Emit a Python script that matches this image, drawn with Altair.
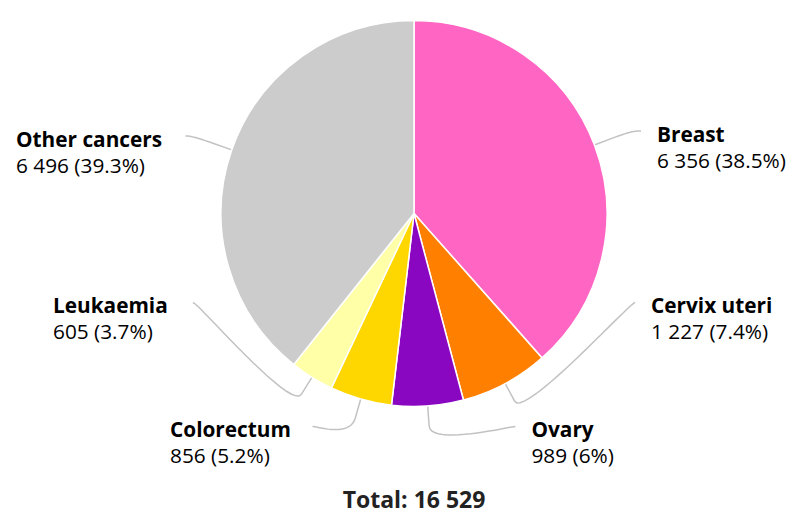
import math
import altair as alt
import pandas as pd

# ---- data ----
names = ["Breast", "Cervix uteri", "Ovary", "Colorectum", "Leukaemia", "Other cancers"]
values = [6356, 1227, 989, 856, 605, 6496]
colors = ["#FF66C4", "#FF7F00", "#8A07C2", "#FFD700", "#FFFFA8", "#CCCCCC"]

# ---- layout (pixels, plot coordinates) ----
W, H = 778, 507
CX, CY, R = 406, 205.5, 193
LABEL_R = 240
BREAK_OFF = 20
LABEL_Y = [127.5, 299, 423, 423, 299, 132.5]   # centre of the name line
LEFT_TEXT_X = {"Colorectum": 162, "Leukaemia": 45, "Other cancers": 8}  # left edge of left-side blocks
RIGHT_GAP = 16
LINE_GAP = 26
FONT = "Open Sans"
FS = 20.8
FS_TOTAL = 23

total = sum(values)


def fmt_int(v):
    return f"{v:,}".replace(",", " ")


def fmt_pct(p):
    s = f"{p:.1f}"
    return s[:-2] if s.endswith(".0") else s


pie = pd.DataFrame({"name": names, "value": values, "idx": list(range(len(names)))})

lab_rows, con_rows = [], []
cum = 0
for i, (n, v) in enumerate(zip(names, values)):
    a = 2 * math.pi * (cum + v / 2) / total
    cum += v
    sa, ca = math.sin(a), math.cos(a)
    left = sa < 0
    ly = LABEL_Y[i]
    dy = ly - CY
    dx = math.sqrt(max(LABEL_R ** 2 - dy ** 2, 0))
    ax = CX - dx if left else CX + dx
    ay = ly - 4.5
    tx = LEFT_TEXT_X[n] if left else ax + RIGHT_GAP
    lab_rows.append({"name": n, "tx": tx, "y1": ly, "y2": ly + LINE_GAP,
                     "val": f"{fmt_int(v)} ({fmt_pct(100 * v / total)}%)"})
    # connector: soft bezier from label anchor to break point, then to slice edge
    touch = (CX + R * sa, CY - R * ca)
    brk = (CX + (R + BREAK_OFF) * sa, CY - (R + BREAK_OFF) * ca)
    p0 = (ax, ay)
    p1 = (ax + (5 if left else -5), ay)
    p2 = (2 * brk[0] - touch[0], 2 * brk[1] - touch[1])
    p3 = brk
    k = 0
    for s in range(21):
        t = s / 20
        bx = ((1 - t) ** 3 * p0[0] + 3 * (1 - t) ** 2 * t * p1[0]
              + 3 * (1 - t) * t ** 2 * p2[0] + t ** 3 * p3[0])
        by = ((1 - t) ** 3 * p0[1] + 3 * (1 - t) ** 2 * t * p1[1]
              + 3 * (1 - t) * t ** 2 * p2[1] + t ** 3 * p3[1])
        con_rows.append({"name": n, "k": k, "x": bx, "y": by})
        k += 1
    con_rows.append({"name": n, "k": k, "x": touch[0], "y": touch[1]})

labs = pd.DataFrame(lab_rows)
cons = pd.DataFrame(con_rows)

arcs = alt.Chart(pie).mark_arc(outerRadius=R, stroke="white", strokeWidth=1.5).encode(
    theta=alt.Theta("value:Q", stack=True),
    order=alt.Order("idx:Q"),
    color=alt.Color("name:N", scale=alt.Scale(domain=names, range=colors), legend=None),
    x=alt.value(CX),
    y=alt.value(CY),
)

lines = alt.Chart(cons).mark_line(color="#c2c2c2", strokeWidth=1.5).encode(
    x=alt.X("x:Q", scale=None, axis=None),
    y=alt.Y("y:Q", scale=None, axis=None),
    detail="name:N",
    order="k:Q",
)

names_txt = alt.Chart(labs).mark_text(
    align="left", baseline="middle", font=FONT, fontSize=FS, fontWeight="bold", color="#000000"
).encode(x=alt.X("tx:Q", scale=None), y=alt.Y("y1:Q", scale=None), text="name:N")
vals_txt = alt.Chart(labs).mark_text(
    align="left", baseline="middle", font=FONT, fontSize=FS, color="#000000"
).encode(x=alt.X("tx:Q", scale=None), y=alt.Y("y2:Q", scale=None), text="val:N")

tot = pd.DataFrame({"t": [f"Total: {fmt_int(total)}"]})
total_txt = alt.Chart(tot).mark_text(
    align="center", baseline="alphabetic", font=FONT, fontSize=FS_TOTAL, fontWeight="bold",
    color="#222222"
).encode(x=alt.value(CX), y=alt.value(500), text="t:N")

chart = alt.layer(lines, arcs, names_txt, vals_txt, total_txt).properties(
    width=W, height=H, autosize=alt.AutoSizeParams(type="none"), padding=0
).configure_view(stroke=None)

chart.save("out.html", embed_options={"renderer": "svg", "actions": False})
